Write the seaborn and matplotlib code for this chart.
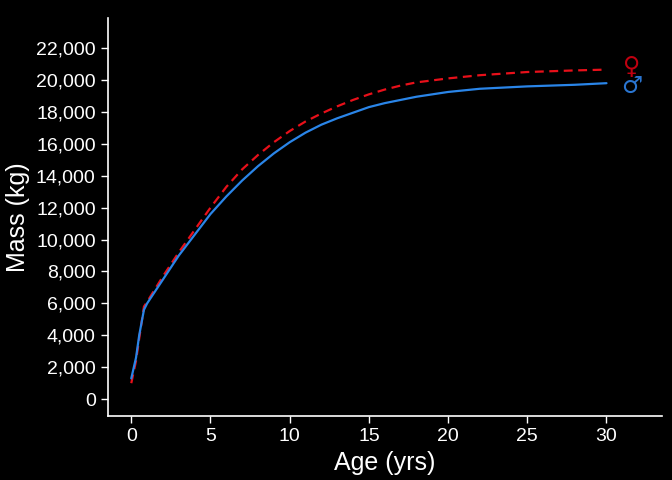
import matplotlib
matplotlib.use('Agg')
import matplotlib.pyplot as plt
import pandas as pd
import seaborn as sns
from matplotlib.ticker import FuncFormatter

# Growth curves
male_age = [0, 0.3, 0.5, 0.8, 1, 2, 3, 4, 5, 6, 7, 8, 9, 10, 11, 12, 13, 14, 15,
            16, 17, 18, 19, 20, 22, 25, 28, 30]
male_mass = [1300, 2600, 4000, 5600, 6000, 7500, 9000, 10300, 11600, 12700, 13700,
             14600, 15400, 16100, 16700, 17200, 17600, 17950, 18300, 18550, 18750,
             18950, 19100, 19250, 19450, 19600, 19700, 19800]
female_age = [0, 0.3, 0.5, 0.8, 1, 2, 3, 4, 5, 6, 7, 8, 9, 10, 11, 12, 13, 14, 15,
              16, 17, 18, 20, 22, 25, 28, 30]
female_mass = [1000, 2400, 3800, 5800, 6100, 7700, 9200, 10600, 12000, 13300, 14400,
               15300, 16100, 16800, 17400, 17900, 18350, 18750, 19100, 19400, 19650,
               19850, 20100, 20300, 20500, 20600, 20650]

sns.set_style('dark')
plt.rcParams['font.family'] = ['Liberation Sans', 'DejaVu Sans']

fig, ax = plt.subplots(figsize=(6.72, 4.8), dpi=100)
fig.patch.set_facecolor('black')
ax.set_facecolor('black')

male = pd.DataFrame({'age': male_age, 'mass': male_mass})
female = pd.DataFrame({'age': female_age, 'mass': female_mass})
sns.lineplot(data=female, x='age', y='mass', ax=ax, color='#e8101a', linewidth=1.6,
             linestyle=(0, (4, 2.5)))
sns.lineplot(data=male, x='age', y='mass', ax=ax, color='#2a85e8', linewidth=1.6)

ax.text(31.6, female_mass[-1] + 150, '\u2640', color='#c00010', fontsize=17,
        ha='center', va='center', family=['DejaVu Sans'])
ax.text(31.6, male_mass[-1] - 200, '\u2642', color='#2a75d0', fontsize=17,
        ha='center', va='center', family=['DejaVu Sans'])

ax.set_xlim(-1.5, 33.5)
ax.set_ylim(-1066, 23900)
ax.set_xticks(range(0, 31, 5))
ax.set_yticks(range(0, 22001, 2000))
ax.yaxis.set_major_formatter(FuncFormatter(lambda v, p: f'{int(v):,}'))
ax.grid(False)
for s in ['top', 'right']:
    ax.spines[s].set_visible(False)
for s in ['left', 'bottom']:
    ax.spines[s].set_visible(True)
    ax.spines[s].set_color('white')
    ax.spines[s].set_linewidth(1.2)
ax.tick_params(colors='white', labelsize=14, length=5, width=1, left=True, bottom=True)
ax.set_xlabel('Age (yrs)', color='white', fontsize=18)
ax.set_ylabel('Mass (kg)', color='white', fontsize=18)

fig.subplots_adjust(left=0.16, right=0.985, bottom=0.133, top=0.963)
fig.savefig('out.png', facecolor='black')
